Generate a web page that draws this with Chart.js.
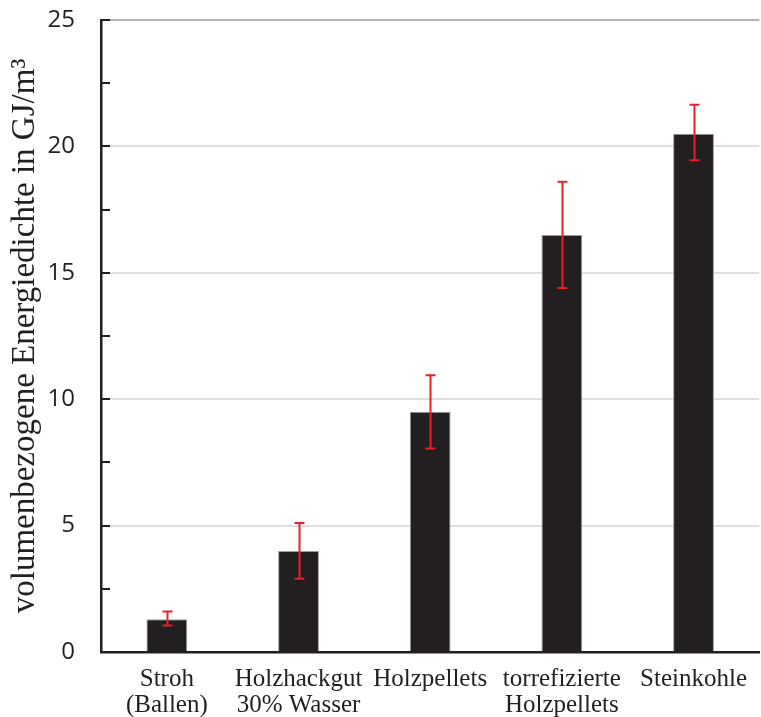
<!DOCTYPE html>
<html>
<head>
<meta charset="utf-8">
<script src="https://cdn.jsdelivr.net/npm/chart.js@4/dist/chart.umd.min.js"></script>
<style>
  html, body { margin: 0; padding: 0; background: #ffffff; }
  canvas { display: block; }
</style>
</head>
<body>
<canvas id="chart" width="761" height="717"></canvas>
<script>
// Volumetric energy density of solid fuels (GJ/m³) with min/max ranges
const categories = [
  ['Stroh', '(Ballen)'],
  ['Holzhackgut', '30% Wasser'],
  'Holzpellets',
  ['torrefizierte', 'Holzpellets'],
  'Steinkohle'
];
const energyDensity = [1.3, 4.0, 9.5, 16.5, 20.5];
const rangeLow  = [1.05, 2.9, 8.05, 14.4, 19.45];
const rangeHigh = [1.6, 5.1, 10.95, 18.6, 21.65];
const yMin = 0;
const yMax = 25;
const yMajorStep = 5;
const yMinorStep = 2.5;
const yTitle = 'volumenbezogene Energiedichte in GJ/m³';

const INK = '#231f20';

// Red whiskers with caps for the min/max range of each bar
const rangeBars = {
  id: 'rangeBars',
  afterDatasetsDraw(chart) {
    const meta = chart.getDatasetMeta(0);
    const y = chart.scales.y;
    const ctx = chart.ctx;
    ctx.save();
    ctx.strokeStyle = '#e8212a';
    ctx.lineWidth = 2;
    meta.data.forEach((bar, i) => {
      const x = Math.round(bar.x) + 0.5;
      const yLo = y.getPixelForValue(rangeLow[i]);
      const yHi = y.getPixelForValue(rangeHigh[i]);
      ctx.beginPath();
      ctx.moveTo(x, yLo);
      ctx.lineTo(x, yHi);
      ctx.moveTo(x - 5, yLo);
      ctx.lineTo(x + 5, yLo);
      ctx.moveTo(x - 5, yHi);
      ctx.lineTo(x + 5, yHi);
      ctx.stroke();
    });
    ctx.restore();
  }
};

// Short inward tick marks along the value axis
const inwardTicks = {
  id: 'inwardTicks',
  afterDraw(chart) {
    const y = chart.scales.y;
    const left = chart.chartArea.left;
    const ctx = chart.ctx;
    ctx.save();
    ctx.strokeStyle = INK;
    ctx.lineWidth = 2;
    for (let v = yMin + yMinorStep; v <= yMax + 1e-9; v += yMinorStep) {
      const py = Math.round(y.getPixelForValue(v));
      ctx.beginPath();
      ctx.moveTo(left, py);
      ctx.lineTo(left + 9, py);
      ctx.stroke();
    }
    ctx.restore();
  }
};

new Chart(document.getElementById('chart'), {
  type: 'bar',
  data: {
    labels: categories,
    datasets: [{
      data: energyDensity,
      backgroundColor: INK,
      borderColor: '#9a9a9a',
      borderWidth: 1,
      barPercentage: 0.31,
      categoryPercentage: 1.0
    }]
  },
  options: {
    responsive: false,
    animation: false,
    events: [],
    layout: { padding: 0 },
    plugins: {
      legend: { display: false },
      tooltip: { enabled: false }
    },
    scales: {
      x: {
        grid: { display: false, drawTicks: false },
        border: { display: true, color: INK, width: 2.5 },
        ticks: {
          color: INK,
          padding: 14,
          maxRotation: 0,
          autoSkip: false,
          font: { family: '"Liberation Serif", serif', size: 25, lineHeight: 1.04 }
        },
        afterFit(scale) { scale.height = 65; }
      },
      y: {
        min: yMin,
        max: yMax,
        grid: {
          drawTicks: false,
          lineWidth: 2,
          color: (c) => {
            const v = c.tick ? c.tick.value : null;
            if (v === yMin) return 'rgba(0,0,0,0)';
            if (v === yMax) return '#b4b4b4';
            return '#dedede';
          }
        },
        border: { display: true, color: INK, width: 2.5 },
        ticks: {
          stepSize: yMajorStep,
          color: INK,
          padding: 26,
          font: { family: '"Open Sans", sans-serif', size: 24 }
        },
        title: {
          display: true,
          text: yTitle,
          color: INK,
          padding: { top: 6, bottom: 0 },
          font: { family: '"Liberation Serif", serif', size: 33, lineHeight: 1.2 }
        },
        afterFit(scale) {
          scale.width = 101;
          scale.paddingTop = 20;
          scale.paddingBottom = 0;
        }
      }
    }
  },
  plugins: [rangeBars, inwardTicks]
});
</script>
</body>
</html>
